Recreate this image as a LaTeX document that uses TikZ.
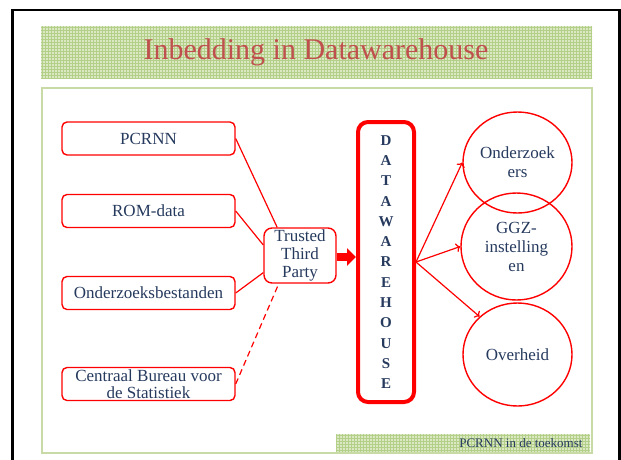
\documentclass[tikz,border=0pt]{standalone}
\usepackage{fontspec}
\setmainfont{Liberation Serif}
\usetikzlibrary{arrows.meta,shapes.geometric,patterns}
\definecolor{titelrood}{RGB}{192,80,77}
\definecolor{tekstblauw}{RGB}{38,58,94}
\definecolor{bandgroen}{RGB}{218,232,196}
\definecolor{rastergroen}{RGB}{180,208,136}
\definecolor{kadergroen}{RGB}{200,218,165}

\begin{document}
\begin{tikzpicture}[x=1pt,y=-1pt,
  bron/.style={draw=red,line width=1.4pt,rounded corners=5pt,fill=white,minimum width=173pt,minimum height=33pt,inner sep=1pt,align=center,text=tekstblauw,font=\fontsize{17}{17}\selectfont},
  afnemer/.style={draw=red,line width=1.4pt,ellipse,inner sep=0pt,align=center,text=tekstblauw,font=\fontsize{17}{19}\selectfont},
  band/.style={pattern=grid,pattern color=rastergroen}]
\useasboundingbox (0,0) rectangle (621,459);
% kader en titel
\draw[line width=2.4pt] (12.3,475) -- (12.3,9.7) -- (619.6,9.7) -- (619.6,475);
\fill[bandgroen] (41,26) rectangle (592,78);
\fill[band] (41,26) rectangle (592,78);
\node[font=\fontsize{30}{30}\selectfont,text=titelrood] (titel) at (316,52) {Inbedding in Datawarehouse};
\fill[bandgroen] (336,434) rectangle (590,453);
\fill[band] (336,434) rectangle (590,453);
\draw[kadergroen,line width=1.2pt] (42,88) rectangle (592,453);
\node[anchor=east,text=tekstblauw,font=\fontsize{13}{14}\selectfont] (voet) at (586,443.5) {PCRNN in de toekomst};
% bronnen
\node[bron] (pcrnn) at (148.5,138.5) {PCRNN};
\node[bron] (rom) at (148.5,211) {ROM-data};
\node[bron] (onderz) at (148.5,293) {Onderzoeksbestanden};
\node[bron,font=\fontsize{17}{16.5}\selectfont] (cbs) at (148.5,384) {Centraal Bureau voor\\de Statistiek};
\node[bron,rounded corners=8pt,minimum width=72pt,minimum height=55pt,font=\fontsize{17}{18}\selectfont] (ttp) at (300,255.5) {Trusted\\Third\\Party};
\draw[red,line width=1.2pt] (pcrnn.east) -- (ttp.129);
\draw[red,line width=1.2pt] (rom.east) -- (ttp.164);
\draw[red,line width=1.2pt] (onderz.east) -- (ttp.205);
\draw[red,line width=1.2pt,dash pattern=on 6pt off 4pt] (cbs.east) -- (ttp.233);
% datawarehouse
\node[draw=red,line width=4pt,rounded corners=10pt,minimum width=56pt,minimum height=280pt,inner sep=0pt,align=center,text=tekstblauw,font=\fontsize{15}{20.3}\selectfont\bfseries] (dw) at (386,262)
  {D\\A\\T\\A\\W\\A\\R\\E\\H\\O\\U\\S\\E};
\draw[red,line width=8pt,-{Triangle[length=9pt,width=17pt]}] (ttp.east |- 0,257) -- (dw.west |- 0,257);
% afnemers
\node[afnemer,minimum width=109pt,minimum height=101pt] (ond) at (517.5,162.5) {Onderzoek\\ers};
\node[afnemer,minimum width=111pt,minimum height=107pt] (ggz) at (516.5,246.5) {GGZ-\\instelling\\en};
\node[afnemer,minimum width=109pt,minimum height=103pt] (ovh) at (517.5,354.5) {Overheid};
\draw[red,line width=1.2pt,->] (dw.east) -- (ond.west);
\draw[red,line width=1.2pt,->] (dw.east) -- (ggz.west);
\draw[red,line width=1.2pt,->] (dw.east) -- (ovh.135);
\end{tikzpicture}
\end{document}
